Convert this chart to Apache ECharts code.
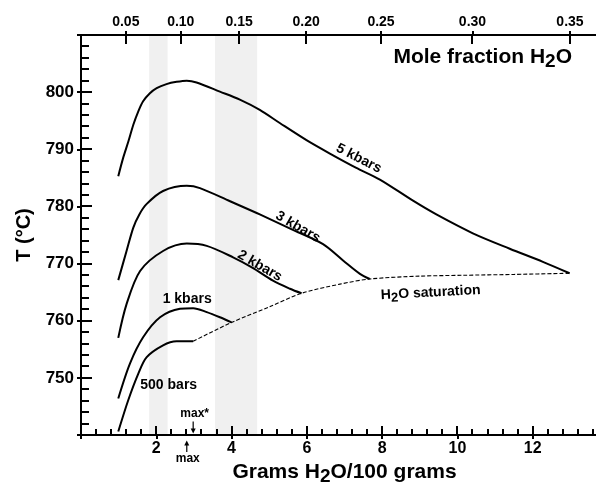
<!DOCTYPE html>
<html>
<head>
<meta charset="utf-8">
<script src="https://cdn.jsdelivr.net/npm/echarts@6/dist/echarts.min.js"></script>
<style>
  html, body { margin: 0; padding: 0; background: #fff; }
  #chart { width: 596px; height: 483px; }
</style>
</head>
<body>
<div id="chart"></div>
<script>
// tick labels
const gramTicks = [2, 4, 6, 8, 10, 12];
const tempTicks = [750, 760, 770, 780, 790, 800];
// top axis: mole fraction labels, and where they fall on the grams axis
const moleLabels = ['0.05', '0.10', '0.15', '0.20', '0.25', '0.30', '0.35'];
const moleAtGrams = [1.19, 2.65, 4.20, 5.98, 7.97, 10.40, 12.99];
// grey bands (grams)
const bandFrom = [1.81, 3.56];
const bandTo = [2.30, 4.68];

// curves: grams H2O/100 g  vs  T (°C)
const kbar5X = [0.99, 1.12, 1.26, 1.39, 1.52, 1.65, 1.83, 2.01, 2.27, 2.54, 2.81, 3.07, 3.69, 4.22, 4.75, 5.28, 5.99, 6.60, 7.30, 7.94, 8.82, 9.44, 10.41, 11.39, 12.27, 12.98];
const kbar5T = [785.3, 788.5, 791.4, 794.3, 796.6, 798.4, 799.8, 800.7, 801.4, 801.8, 802.0, 801.7, 800.1, 798.7, 796.9, 794.6, 791.6, 789.3, 786.8, 784.7, 781.0, 778.6, 775.3, 772.6, 770.3, 768.3];
const kbar3X = [0.99, 1.21, 1.39, 1.55, 1.74, 2.18, 2.81, 3.16, 3.96, 4.75, 5.60, 6.43, 6.97, 7.41, 7.67];
const kbar3T = [767.1, 772.2, 776.3, 778.6, 780.4, 782.7, 783.6, 783.2, 780.9, 778.6, 776.0, 773.4, 770.5, 768.2, 767.3];
const kbar2X = [0.99, 1.21, 1.57, 2.18, 2.81, 3.34, 4.04, 4.55, 5.10, 5.55, 5.86];
const kbar2T = [757.0, 762.9, 768.7, 772.2, 773.5, 773.1, 771.1, 769.3, 767.0, 765.6, 764.8];
const kbar1X = [0.99, 1.30, 1.65, 2.10, 2.63, 2.98, 3.34, 3.69, 4.00];
const kbar1T = [746.4, 752.5, 757.1, 760.6, 762.1, 762.2, 761.5, 760.6, 759.7];
const bar500X = [0.99, 1.25, 1.52, 1.74, 2.18, 2.54, 2.98];
const bar500T = [740.6, 746.0, 750.7, 753.6, 755.7, 756.4, 756.4];
const satX = [2.98, 4.00, 5.00, 5.86, 6.88, 7.67, 9.00, 10.15, 11.50, 12.98];
const satT = [756.4, 759.7, 762.4, 764.8, 766.4, 767.3, 767.8, 767.95, 768.1, 768.3];

// "max" markers on the grams axis
const maxStarX = 2.98;
const maxX = 2.81;

const X_MIN = 0, X_MAX = 14, T_MIN = 740, T_MAX = 810;
const FONT = '"Liberation Sans", Arial, Helvetica, sans-serif';
const pairs = (xs, ys) => xs.map((x, i) => [x, ys[i]]);

function sub(size, pad) {
  return { sub: { fontSize: size, fontWeight: 'bold', fontFamily: FONT, fill: '#000', color: '#000', padding: [pad, 0, 0, 0] } };
}

function curve(name, xs, ys) {
  return {
    name: name, type: 'line', data: pairs(xs, ys), symbol: 'none',
    smooth: 0.3, z: 3,
    lineStyle: { color: '#000', width: 2 }
  };
}

let myChart = echarts.init(document.getElementById('chart'));

const axisLine = { lineStyle: { color: '#000', width: 2 } };
const tickStyle = { color: '#000', width: 2 };

let option = {
  animation: false,
  backgroundColor: '#fff',
  grid: { left: 81, right: -12, top: 35, bottom: 48, outerBoundsMode: 'none', containLabel: false },
  xAxis: [
    {
      type: 'value', min: X_MIN, max: X_MAX, interval: 2, position: 'bottom', z: 6,
      axisLine: axisLine,
      axisTick: { inside: false, length: 4, lineStyle: tickStyle },
      splitLine: { show: false },
      axisLabel: {
        margin: 6, color: '#000', fontSize: 16, fontWeight: 'bold', fontFamily: FONT,
        formatter: v => (gramTicks.indexOf(v) >= 0 ? String(v) : '')
      },
      name: 'Grams H{sub|2}O/100 grams', nameLocation: 'middle', nameGap: 23,
      nameTextStyle: { color: '#000', fontSize: 21, fontWeight: 'bold', fontFamily: FONT, rich: sub(19, 9) }
    },
    {
      type: 'value', min: X_MIN, max: X_MAX, position: 'top', z: 6,
      axisLine: axisLine,
      axisTick: { customValues: moleAtGrams, inside: false, length: 4, lineStyle: tickStyle },
      axisLabel: {
        customValues: moleAtGrams, margin: 6, color: '#000', fontSize: 14, fontWeight: 'bold', fontFamily: FONT,
        formatter: function (v) {
          let i = moleAtGrams.findIndex(g => Math.abs(g - v) < 1e-6);
          return i >= 0 ? moleLabels[i] : '';
        }
      },
      splitLine: { show: false }
    }
  ],
  yAxis: [
    {
      type: 'value', min: T_MIN, max: T_MAX, interval: 10, position: 'left', z: 6,
      axisLine: axisLine,
      axisTick: { inside: false, length: 4, lineStyle: tickStyle },
      splitLine: { show: false },
      axisLabel: {
        margin: 7, color: '#000', fontSize: 17, fontWeight: 'bold', fontFamily: FONT,
        formatter: v => (tempTicks.indexOf(v) >= 0 ? String(v) : '')
      },
      name: 'T (°C)', nameLocation: 'middle', nameGap: 46, nameRotate: 90,
      nameTextStyle: { color: '#000', fontSize: 20, fontWeight: 'bold', fontFamily: FONT }
    }
  ],
  series: [
    {
      // grey bands
      type: 'line', data: [], z: 1, silent: true,
      markArea: {
        silent: true,
        itemStyle: { color: '#f0f0f0' },
        data: bandFrom.map((f, i) => [{ xAxis: f }, { xAxis: bandTo[i] }])
      }
    },
    curve('5 kbars', kbar5X, kbar5T),
    curve('3 kbars', kbar3X, kbar3T),
    curve('2 kbars', kbar2X, kbar2T),
    curve('1 kbars', kbar1X, kbar1T),
    curve('500 bars', bar500X, bar500T),
    {
      name: 'H2O saturation', type: 'line', data: pairs(satX, satT), symbol: 'none',
      smooth: 0.3, z: 3,
      lineStyle: { color: '#000', width: 1.1, type: [4, 2] }
    }
  ]
};

myChart.setOption(option);

// curve labels, placed in data coordinates (angle in degrees, negative = descending)
const curveLabels = [
  { text: '5 kbars', x: 7.38, t: 788.4, angle: -27 },
  { text: '3 kbars', x: 5.76, t: 776.4, angle: -30 },
  { text: '2 kbars', x: 4.75, t: 769.6, angle: -30 },
  { text: '1 kbars', x: 2.82, t: 763.8, angle: 0 },
  { text: '500 bars', x: 2.33, t: 748.7, angle: 0 },
  { text: 'H{sub|2}O saturation', x: 9.29, t: 764.9, angle: 3 }
];

const px = v => myChart.convertToPixel({ xAxisIndex: 0 }, v);
const py = v => myChart.convertToPixel({ yAxisIndex: 0 }, v);
let axisY = py(T_MIN), topY = py(T_MAX), axisX = px(X_MIN);
let pStar = px(maxStarX);
let pMax = px(maxX);
let smallText = { fill: '#000', font: 'bold 12px ' + FONT, align: 'center', verticalAlign: 'middle' };

function seg(x1, y1, x2, y2, w) {
  return { type: 'line', z: 20, silent: true, shape: { x1: x1, y1: y1, x2: x2, y2: y2 }, style: { stroke: '#000', lineWidth: w } };
}

let graphics = [];

// tick marks pointing into the plot (snapped to whole pixels so they stay crisp)
for (let i = 1; i * 0.4 < X_MAX; i++) {
  let v = Math.round(i * 4) / 10;
  let major = Math.abs(v / 2 - Math.round(v / 2)) < 1e-9;
  let x = Math.round(px(v));
  graphics.push(seg(x, axisY, x, axisY - (major ? 9 : 6), 2));
}
moleAtGrams.forEach(g => {
  let x = Math.round(px(g));
  graphics.push(seg(x, topY, x, topY + 9, 2));
});
for (let t = T_MIN + 2; t < T_MAX; t += 2) {
  let major = t % 10 === 0;
  let y = Math.round(py(t));
  graphics.push(seg(axisX, y, axisX + (major ? 11 : 8), y, 2));
}

curveLabels.forEach(l => {
  graphics.push({
    type: 'text', x: px(l.x), y: py(l.t), rotation: l.angle * Math.PI / 180, z: 10,
    style: {
      text: l.text, fill: '#000', font: 'bold 14px ' + FONT,
      align: 'center', verticalAlign: 'middle', rich: sub(13, 7)
    }
  });
});

graphics.push(
  {
    type: 'text', right: 24, top: 47, z: 10,
    style: { text: 'Mole fraction H{sub|2}O', fill: '#000', font: 'bold 21px ' + FONT, rich: sub(19, 9) }
  },
  { type: 'text', x: pStar + 1.5, y: axisY - 21, z: 10, style: Object.assign({ text: 'max*' }, smallText) },
  seg(pStar, axisY - 13.5, pStar, axisY - 5, 1.2),
  { type: 'polygon', z: 10, shape: { points: [[pStar - 2.5, axisY - 6.5], [pStar + 2.5, axisY - 6.5], [pStar, axisY - 1.5]] }, style: { fill: '#000' } },
  seg(pMax, axisY + 17, pMax, axisY + 9, 1.2),
  { type: 'polygon', z: 10, shape: { points: [[pMax - 2.5, axisY + 10.5], [pMax + 2.5, axisY + 10.5], [pMax, axisY + 5.5]] }, style: { fill: '#000' } },
  { type: 'text', x: pMax + 1, y: axisY + 24, z: 10, style: Object.assign({ text: 'max' }, smallText) }
);

myChart.setOption({ graphic: graphics });
</script>
</body>
</html>
